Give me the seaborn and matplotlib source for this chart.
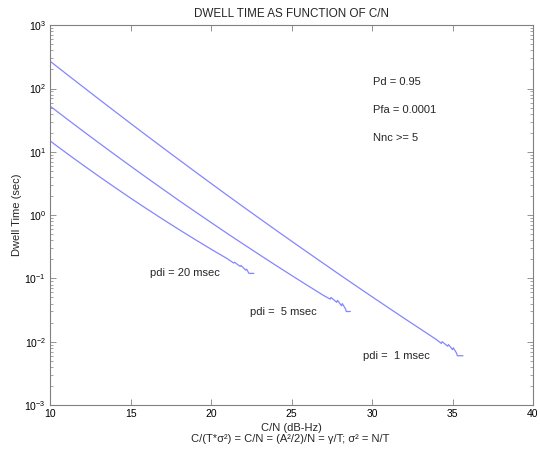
import numpy as np
import pandas as pd
import seaborn as sns
import matplotlib
matplotlib.use("Agg")
import matplotlib.pyplot as plt
from matplotlib.ticker import LogLocator, NullFormatter

LINE_BLUE = '#8585ff'
GREY = '#808080'

# C/N (dB-Hz) and dwell time (sec)
cn_1ms = [10, 11, 12, 13, 14, 15, 16, 17, 18, 19, 20, 21, 22, 23, 24, 25,
          26, 27, 28, 29, 30, 31, 32, 33, 34.0, 34.3, 34.35, 34.7, 34.75,
          35.0, 35.05, 35.25, 35.3, 35.65]
dwell_1ms = [269, 170, 108, 68.6, 43.8, 28.0, 18.0, 11.6, 7.5, 4.86, 3.16,
             2.06, 1.35, 0.888, 0.585, 0.387, 0.257, 0.171, 0.114, 0.0763,
             0.0513, 0.0346, 0.0234, 0.0159, 0.0108, 0.0094, 0.0100, 0.0085,
             0.0090, 0.0075, 0.0080, 0.0066, 0.0060, 0.0060]

cn_5ms = [10, 11, 12, 13, 14, 15, 16, 17, 18, 19, 20, 21, 22, 23, 24, 25,
          26, 27.0, 27.4, 27.45, 27.8, 27.85, 28.1, 28.15, 28.35, 28.4, 28.65]
dwell_5ms = [52.5, 33.6, 21.6, 13.97, 9.08, 5.93, 3.89, 2.57, 1.70, 1.137,
             0.762, 0.513, 0.348, 0.237, 0.162, 0.1114, 0.0770, 0.0535,
             0.047, 0.050, 0.042, 0.045, 0.037, 0.040, 0.033, 0.030, 0.030]

cn_20ms = [10, 11, 12, 13, 14, 15, 16, 17, 18, 19, 20, 21.0, 21.4, 21.45,
           21.8, 21.85, 22.15, 22.2, 22.35, 22.65]
dwell_20ms = [14.8, 9.59, 6.27, 4.14, 2.76, 1.85, 1.255, 0.858, 0.592, 0.412,
              0.289, 0.205, 0.175, 0.18, 0.155, 0.16, 0.135, 0.14, 0.12, 0.12]

curve_labels = ['pdi =  1 msec', 'pdi =  5 msec', 'pdi = 20 msec']
label_pos = [(29.45, 0.0059), (22.4, 0.0295), (16.2, 0.12)]
params_text = ['Pd = 0.95', 'Pfa = 0.0001', 'Nnc >= 5']
params_y = [126, 45, 16.4]

sns.set_style("ticks")
plt.rcParams['font.family'] = ['Liberation Sans', 'DejaVu Sans']
plt.rcParams['axes.edgecolor'] = GREY
plt.rcParams['xtick.color'] = GREY
plt.rcParams['ytick.color'] = GREY
plt.rcParams['xtick.labelcolor'] = 'black'
plt.rcParams['ytick.labelcolor'] = 'black'

fig = plt.figure(figsize=(5.4, 4.5), dpi=100)
ax = fig.add_axes([0.093, 0.1, 0.894, 0.844])

for xs, ys in [(cn_1ms, dwell_1ms), (cn_5ms, dwell_5ms), (cn_20ms, dwell_20ms)]:
    sns.lineplot(x=xs, y=ys, ax=ax, color=LINE_BLUE, linewidth=0.9,
                 estimator=None, sort=False)

ax.set_yscale('log')
ax.set_xlim(10, 40)
ax.set_ylim(1e-3, 1e3)
ax.set_xticks([10, 15, 20, 25, 30, 35, 40])
ax.yaxis.set_major_locator(LogLocator(base=10, numticks=10))
ax.yaxis.set_minor_locator(LogLocator(base=10, subs=np.arange(2, 10), numticks=10))
ax.yaxis.set_minor_formatter(NullFormatter())
ax.tick_params(which='both', direction='in', top=True, right=True,
               labelsize=7.5, pad=3)
ax.tick_params(which='major', length=4, width=0.6)
ax.tick_params(which='minor', length=2, width=0.5)
for s in ax.spines.values():
    s.set_linewidth(0.8)

for txt, (x, y) in zip(curve_labels, label_pos):
    ax.text(x, y, txt, fontsize=8, va='center', ha='left')
for txt, y in zip(params_text, params_y):
    ax.text(30.06, y, txt, fontsize=8, va='center', ha='left')

ax.set_title("DWELL TIME AS FUNCTION OF C/N", fontsize=8.4, pad=6)
ax.set_xlabel("C/N (dB-Hz)", fontsize=8, labelpad=3)
fig.text(0.537, 0.024, "C/(T*σ²) = C/N = (A²/2)/N = γ/T; σ² = N/T",
         fontsize=8, ha='center', va='center')
ax.set_ylabel("Dwell Time (sec)", fontsize=8, labelpad=2)

fig.savefig("out.png", dpi=100)
